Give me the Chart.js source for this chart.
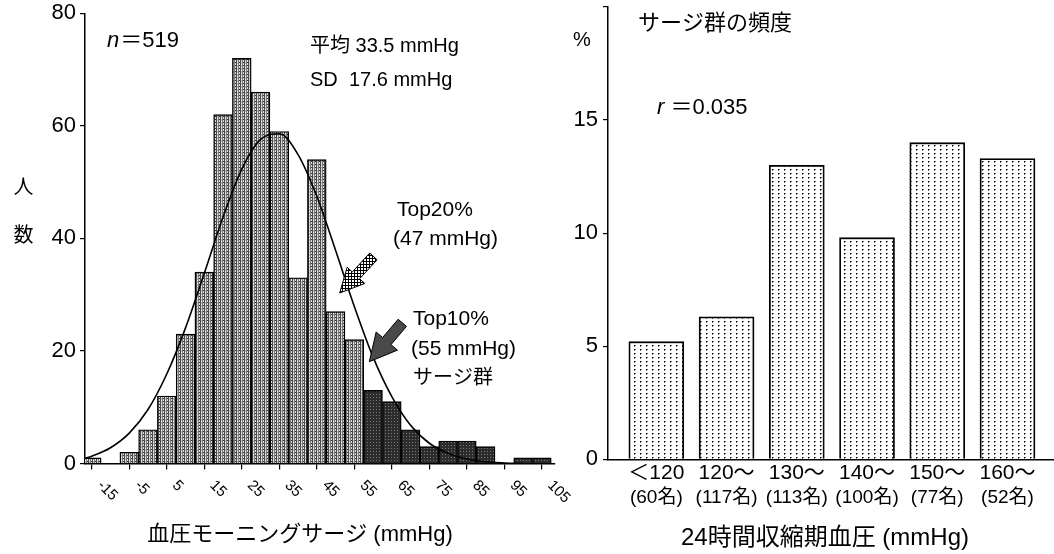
<!DOCTYPE html>
<html><head><meta charset="utf-8">
<script src="https://cdn.jsdelivr.net/npm/chart.js@4"></script>
<style>
html,body{margin:0;padding:0;background:#fff;}
#wrap{position:relative;width:1054px;height:554px;overflow:hidden;background:#fff;}
#c1{position:absolute;left:0;top:0;}
#c2{position:absolute;left:560px;top:0;}
</style></head><body>
<div id="wrap"><canvas id="c1" width="600" height="554"></canvas><canvas id="c2" width="494" height="554"></canvas></div>
<script>
const FONT = '"Liberation Sans", "Noto Sans CJK JP", Arial, sans-serif';

// ---- Left: morning surge histogram (bins of 5 mmHg, centre values) ----
const surgeBins   = [-15,-10,-5,0,5,10,15,20,25,30,35,40,45,50,55,60,65,70,75,80,85,90,95,100,105];
const surgeCounts = [1,0,2,6,12,23,34,62,72,66,59,33,54,27,22,13,11,6,3,4,4,3,0,1,1];
const surgeTickLabels = [-15,-5,5,15,25,35,45,55,65,75,85,95,105];
const surgeGroupFrom = 60;   // bins belonging to the surge group (Top10%)
const countTicks = [0,20,40,60,80];
// fitted normal curve
const fitX = [-17,-15,-10,-5,0,5,10,15,20,25,30,35,40,45,50,55,60,65,70,75,80,85,90,95,100];
const fitY = [0.9,1.3,2.8,5.4,9.6,15.9,24.1,33.8,43.8,52.3,57.6,58.6,54.9,47.5,37.9,27.9,18.9,11.9,6.8,3.6,1.8,0.8,0.3,0.1,0.0];

// ---- Right: surge-group frequency by 24h systolic BP ----
const bpCategories = ['＜120','120～','130～','140～','150～','160～'];
const bpCounts     = ['(60名)','(117名)','(113名)','(100名)','(77名)','(52名)'];
const surgeRate    = [5.2,6.3,13.0,9.8,14.0,13.3];
const rateTicks    = [0,5,10,15,20];

function makePattern(w,h,draw){
  const c=document.createElement('canvas');c.width=w;c.height=h;
  const g=c.getContext('2d');draw(g);return g.createPattern(c,'repeat');
}
const lightPat = makePattern(4,3,g=>{
  const cols=['#4a4a4a','#bdbdbd','#7a7a7a','#dcdcdc'];
  cols.forEach((c,i)=>{g.fillStyle=c;g.fillRect(i,0,1,3);});
  g.fillStyle='#f4f4f4';g.fillRect(1,1,1,1);
  g.fillStyle='#333';g.fillRect(3,2,1,1);
});
const darkPat = makePattern(3,3,g=>{
  g.fillStyle='#2c2c2c';g.fillRect(0,0,3,3);
  g.fillStyle='#777';g.fillRect(1,1,1,1);
});
const dotPat = makePattern(6,4,g=>{
  g.fillStyle='#fff';g.fillRect(0,0,6,4);
  g.fillStyle='#000';g.fillRect(2,1,1,1);
  g.fillStyle='#666';g.fillRect(3,1,1,1);g.fillRect(2,2,1,1);
});
const hatchPat = makePattern(3,3,g=>{
  g.fillStyle='#fff';g.fillRect(0,0,3,3);
  g.fillStyle='#000';g.fillRect(0,0,3,1);g.fillRect(0,0,1,3);
});

function txt(ctx,s,x,y,size,opt){
  opt=opt||{};
  ctx.font=(opt.italic?'italic ':'')+size+'px '+FONT;
  ctx.textAlign=opt.align||'left';ctx.textBaseline='middle';ctx.fillStyle='#000';
  ctx.fillText(s,x,y);
  return ctx.measureText(s).width;
}
function arrow(ctx,tx,ty,fx,fy,headLen,headHalf,shaftHalf,fill){
  const dx=tx-fx,dy=ty-fy,L=Math.hypot(dx,dy),ux=dx/L,uy=dy/L,nx=-uy,ny=ux;
  const bx=tx-ux*headLen,by=ty-uy*headLen;
  ctx.beginPath();
  ctx.moveTo(fx+nx*shaftHalf,fy+ny*shaftHalf);
  ctx.lineTo(bx+nx*shaftHalf,by+ny*shaftHalf);
  ctx.lineTo(bx+nx*headHalf,by+ny*headHalf);
  ctx.lineTo(tx,ty);
  ctx.lineTo(bx-nx*headHalf,by-ny*headHalf);
  ctx.lineTo(bx-nx*shaftHalf,by-ny*shaftHalf);
  ctx.lineTo(fx-nx*shaftHalf,fy-ny*shaftHalf);
  ctx.closePath();
  ctx.fillStyle=fill;ctx.fill();
  ctx.strokeStyle='#000';ctx.lineWidth=1;ctx.stroke();
}

const leftDecor={id:'leftDecor',afterDraw(chart){
  const {ctx,chartArea:a}=chart;const x=chart.scales.x,y=chart.scales.y;
  ctx.save();
  // rotated x tick labels
  ctx.font='15px '+FONT;ctx.textAlign='left';ctx.textBaseline='middle';ctx.fillStyle='#000';
  surgeTickLabels.forEach(v=>{
    const px=x.getPixelForValue(v);
    ctx.save();ctx.translate(px+8,a.bottom+19.5);ctx.rotate(Math.PI/4);
    ctx.fillText(String(v),0,0);ctx.restore();
  });
  // axis titles
  txt(ctx,'血圧モーニングサージ (mmHg)',300,535,22,{align:'center'});
  txt(ctx,'人',23.5,188,20,{align:'center'});
  txt(ctx,'数',23.5,236,20,{align:'center'});
  // annotations
  const w=txt(ctx,'n',107,40.5,22,{italic:true});
  txt(ctx,'＝519',107+w+1,40.5,22);
  txt(ctx,'平均 33.5 mmHg',310,46.5,20);
  txt(ctx,'SD  17.6 mmHg',310,80,20);
  txt(ctx,'Top20%',397,210,21);
  txt(ctx,'(47 mmHg)',393,239,21);
  txt(ctx,'Top10%',413,319,21);
  txt(ctx,'(55 mmHg)',411,349,21);
  txt(ctx,'サージ群',413,378,20);
  // arrows (anchored in data coordinates)
  arrow(ctx,x.getPixelForValue(51.1),y.getPixelForValue(30.3),x.getPixelForValue(60.1),y.getPixelForValue(36.8),24,12,5,hatchPat);
  arrow(ctx,x.getPixelForValue(59.0),y.getPixelForValue(18.1),x.getPixelForValue(67.8),y.getPixelForValue(25.0),27,14,5.5,'#4a4a4a');
  ctx.restore();
}};

new Chart(document.getElementById('c1'),{
  type:'bar',
  data:{datasets:[
    {type:'line',data:fitX.map((v,i)=>({x:v,y:fitY[i]})),borderColor:'#000',borderWidth:1.6,
     pointRadius:0,cubicInterpolationMode:'monotone',tension:0.4,order:0},
    {type:'bar',data:surgeBins.map((v,i)=>({x:v,y:surgeCounts[i]})),
     backgroundColor:c=>(surgeBins[c.dataIndex]>=surgeGroupFrom?darkPat:lightPat),
     borderColor:'#000',borderWidth:1.4,borderSkipped:'bottom',barPercentage:1,categoryPercentage:1,order:1}
  ]},
  options:{
    responsive:false,animation:false,devicePixelRatio:1,
    layout:{padding:{left:0,top:13.3,right:45,bottom:0}},
    plugins:{legend:{display:false},tooltip:{enabled:false}},
    scales:{
      x:{type:'linear',min:-16.8,max:108.5,offset:false,
         afterBuildTicks:s=>{s.ticks=surgeTickLabels.map(v=>({value:v}));},
         ticks:{display:false},
         grid:{offset:false,drawOnChartArea:false,color:'#000',tickLength:6,lineWidth:1.2},
         border:{color:'#000',width:1.5},
         afterFit:s=>{s.height=554-463.5;s.paddingLeft=0;s.paddingRight=0;}},
      y:{min:0,max:80,
         afterBuildTicks:s=>{s.ticks=countTicks.map(v=>({value:v}));},
         ticks:{color:'#000',font:{family:FONT,size:22},padding:4},
         grid:{drawOnChartArea:false,color:'#000',tickLength:5,lineWidth:1.2},
         border:{color:'#000',width:1.5},
         afterFit:s=>{s.width=85;s.paddingTop=0;s.paddingBottom=0;}}
    }
  },
  plugins:[leftDecor]
});

const OFF=560;
const rightDecor={id:'rightDecor',afterDraw(chart){
  const {ctx,chartArea:a}=chart;const x=chart.scales.x;
  ctx.save();
  bpCategories.forEach((c,i)=>{
    const px=x.getPixelForValue(i);
    txt(ctx,c,px,473.5,21,{align:'center'});
    txt(ctx,bpCounts[i],px,498,19,{align:'center'});
  });
  txt(ctx,'24時間収縮期血圧 (mmHg)',825-OFF,538,24,{align:'center'});
  txt(ctx,'%',582-OFF,40,20,{align:'center'});
  txt(ctx,'サージ群の頻度',638-OFF,23.5,22);
  const w=txt(ctx,'r',657-OFF,108,22,{italic:true});
  txt(ctx,' ＝0.035',657-OFF+w,108,22);
  ctx.restore();
}};

new Chart(document.getElementById('c2'),{
  type:'bar',
  data:{datasets:[{data:surgeRate.map((v,i)=>({x:i,y:v})),backgroundColor:dotPat,
    borderColor:'#000',borderWidth:1.8,borderSkipped:'bottom',barThickness:55}]},
  options:{
    responsive:false,animation:false,devicePixelRatio:1,
    layout:{padding:{left:0,top:7,right:0,bottom:0}},
    plugins:{legend:{display:false},tooltip:{enabled:false}},
    scales:{
      x:{type:'linear',min:-0.688,max:5.662,offset:false,
         afterBuildTicks:s=>{s.ticks=bpCategories.map((c,i)=>({value:i}));},
         ticks:{display:false},
         grid:{offset:false,drawOnChartArea:false,drawTicks:false,color:'#000'},
         border:{color:'#000',width:1.5},
         afterFit:s=>{s.height=554-459.3;s.paddingLeft=0;s.paddingRight=0;}},
      y:{min:0,max:20,
         afterBuildTicks:s=>{s.ticks=rateTicks.map(v=>({value:v}));},
         ticks:{color:'#000',font:{family:FONT,size:22},padding:5,callback:v=>(v===20?'':String(v))},
         grid:{drawOnChartArea:false,color:'#000',tickLength:5,lineWidth:1.2},
         border:{color:'#000',width:1.5},
         afterFit:s=>{s.width=48;s.paddingTop=0;s.paddingBottom=0;}}
    }
  },
  plugins:[rightDecor]
});
</script>
</body></html>
